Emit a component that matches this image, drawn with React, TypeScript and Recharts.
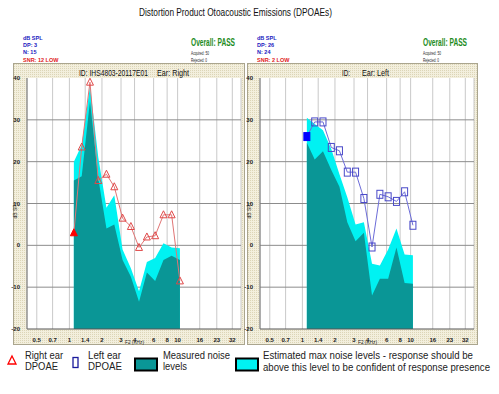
import React from 'react';
import { ComposedChart, Area, Line, XAxis, YAxis, CartesianGrid } from 'recharts';

const FREQ_KHZ = [1.1, 1.3, 1.55, 1.85, 2.2, 2.6, 3.1, 3.7, 4.4, 5.2, 6.2, 7.4, 8.8, 10.5];
const X_TICKS = [0.5, 0.7, 1, 1.4, 2, 3, 4, 6, 8, 10, 16, 23, 32];
const Y_TICKS = [-20, -10, 0, 10, 20, 30, 40];
const GRID_Y = [-10, 0, 10, 20, 30];

const RIGHT_EAR_DPOAE = [3, 23.5, 39, 15.5, 17, 14, 6.5, 4.5, -0.5, 2, 2.3, 7.3, 7.3, -8.5];
const RIGHT_EAR_NOISE = [15.5, 16.5, 34.5, 16, 4, 5, -3.5, -7.5, -13.5, -6.5, -8.5, -3.5, -2.5, -3.5];
const RIGHT_EAR_MAX_NOISE = [20, 24, 38, 21, 9, 12, -1, -5.5, -11, -4, -3, 0.5, -0.5, -0.7];

const LEFT_EAR_DPOAE = [26, 29.5, 29.5, 23.4, 22.6, 17.5, 17.5, 11.2, -0.4, 12.2, 11.6, 10.5, 12.8, 4.8];
const LEFT_EAR_NOISE = [24.5, 20.5, 22.5, 18, 14, 5.5, 1, 3, -12, -8, -8, -0.5, -9, -9.2];
const LEFT_EAR_MAX_NOISE = [30.5, 29, 27.5, 23, 17, 11.5, 5, 5.5, -4.4, -4.8, -1, 4, -2.2, -2.4];

const FONT = 'Arial, "Liberation Sans", sans-serif';

function build(dp: number[], noise: number[], maxNoise: number[]) {
  return FREQ_KHZ.map((f, i) => ({ f, dp: dp[i], noise: noise[i], maxNoise: maxNoise[i] }));
}

const rightEarData = build(RIGHT_EAR_DPOAE, RIGHT_EAR_NOISE, RIGHT_EAR_MAX_NOISE);
const leftEarData = build(LEFT_EAR_DPOAE, LEFT_EAR_NOISE, LEFT_EAR_MAX_NOISE);

const triDot = (props: any) => {
  const { cx, cy, index } = props;
  const filled = index === 0;
  return (
    <path
      key={`tri-${index}`}
      d={`M${cx},${cy - 4} L${cx + 3.5},${cy + 3} L${cx - 3.5},${cy + 3} Z`}
      fill={filled ? '#ff0000' : 'none'}
      stroke={filled ? '#ff0000' : '#e04848'}
      strokeWidth={1}
    />
  );
};

const sqDot = (props: any) => {
  const { cx, cy, index } = props;
  const filled = index === 0;
  return (
    <rect
      key={`sq-${index}`}
      x={cx - 3}
      y={cy - 4}
      width={6}
      height={8}
      fill={filled ? '#0000ff' : 'none'}
      stroke={filled ? '#0000ff' : '#4848c8'}
      strokeWidth={1}
    />
  );
};

function Panel({ data, offsetX, kind }: { data: any[]; offsetX: number; kind: 'tri' | 'sq' }) {
  return (
    <div style={{ position: 'absolute', left: offsetX, top: 0 }}>
      <ComposedChart width={250} height={350} data={data} margin={{ top: 78, right: 9, bottom: 7, left: 13 }}>
        <CartesianGrid horizontal={false} stroke="#c9c9c9" fill="#ffffff" />
        <CartesianGrid vertical={false} horizontalValues={GRID_Y} stroke="#8c8c8c" />
        <XAxis
          dataKey="f"
          type="number"
          scale="log"
          domain={[0.406, 38.5]}
          ticks={X_TICKS}
          interval={0}
          allowDataOverflow
          height={14}
          tickLine={false}
          tickMargin={3}
          axisLine={{ stroke: '#555' }}
          tick={{ fontSize: 6, fontWeight: 700, fill: '#222', fontFamily: FONT }}
          tickFormatter={(v: number) => String(v)}
        />
        <YAxis
          type="number"
          domain={[-20, 40]}
          ticks={Y_TICKS}
          interval={0}
          allowDataOverflow
          width={14}
          tickLine={false}
          tickMargin={1}
          axisLine={{ stroke: '#777' }}
          tick={{ fontSize: 6, fontWeight: 700, fill: '#222', fontFamily: FONT }}
        />
        <Area
          dataKey="maxNoise"
          type="linear"
          baseValue={-20}
          fill="#00f2f2"
          fillOpacity={1}
          stroke="none"
          dot={false}
          activeDot={false}
          isAnimationActive={false}
        />
        <Area
          dataKey="noise"
          type="linear"
          baseValue={-20}
          fill="#0a9696"
          fillOpacity={1}
          stroke="none"
          dot={false}
          activeDot={false}
          isAnimationActive={false}
        />
        <Line
          dataKey="dp"
          type="linear"
          stroke={kind === 'tri' ? '#e07575' : '#6c6cd8'}
          strokeWidth={1}
          dot={kind === 'tri' ? triDot : sqDot}
          activeDot={false}
          isAnimationActive={false}
        />
      </ComposedChart>
    </div>
  );
}

function InfoBlock({ x, dp, n, snr, passX }: { x: number; dp: string; n: string; snr: string; passX: number }) {
  return (
    <g fontFamily={FONT}>
      <text x={x} y={40} fontSize={5.5} fontWeight={700} fill="#2020c0">dB SPL</text>
      <text x={x} y={47} fontSize={5.5} fontWeight={700} fill="#2020c0">{dp}</text>
      <text x={x} y={54} fontSize={5.5} fontWeight={700} fill="#2020c0">{n}</text>
      <text x={x} y={62} fontSize={5.5} fontWeight={700} fill="#e02020">{snr}</text>
      <text x={passX} y={46} fontSize={10} fontWeight={700} fill="#1e8c1e" textLength={44} lengthAdjust="spacingAndGlyphs">Overall: PASS</text>
      <text x={passX} y={55} fontSize={5} fill="#222" textLength={18} lengthAdjust="spacingAndGlyphs">Acquired: 50</text>
      <text x={passX} y={62} fontSize={5} fill="#222" textLength={16} lengthAdjust="spacingAndGlyphs">Rejected: 0</text>
    </g>
  );
}

function Background() {
  return (
    <svg width={499} height={394} style={{ position: 'absolute', left: 0, top: 0 }}>
      <defs>
        <pattern id="beige" width="2" height="2" patternUnits="userSpaceOnUse">
          <rect width="2" height="2" fill="#f3efdd" />
          <rect width="1" height="1" fill="#dcd5b7" />
        </pattern>
      </defs>
      <rect x={0} y={0} width={499} height={394} fill="#ffffff" />
      <text x={235.5} y={16} textAnchor="middle" fontSize={11} fontFamily={FONT} fill="#111" textLength={193} lengthAdjust="spacingAndGlyphs">
        Distortion Product Otoacoustic Emissions (DPOAEs)
      </text>
      <InfoBlock x={23} dp="DP: 3" n="N: 15" snr="SNR: 12 LOW" passX={191} />
      <InfoBlock x={257} dp="DP: 26" n="N: 24" snr="SNR: 2 LOW" passX={423} />
      <rect x={13.5} y={63.5} width={231} height={281} fill="url(#beige)" stroke="#aaa58e" />
      <rect x={247.5} y={63.5} width={230} height={281} fill="url(#beige)" stroke="#aaa58e" />
      <g fontFamily={FONT} fontSize={9.5} fill="#111">
        <text x={79} y={76} textLength={69} lengthAdjust="spacingAndGlyphs">ID: IHS4803-20117E01</text>
        <text x={157} y={76} textLength={32} lengthAdjust="spacingAndGlyphs">Ear: Right</text>
        <text x={342} y={76} textLength={8} lengthAdjust="spacingAndGlyphs">ID:</text>
        <text x={362} y={76} textLength={27} lengthAdjust="spacingAndGlyphs">Ear: Left</text>
      </g>
      <g fontFamily={FONT} fontSize={5} fill="#222">
        <text x={125} y={344} textLength={19} lengthAdjust="spacingAndGlyphs">F2 (KHz)</text>
        <text x={358} y={344} textLength={19} lengthAdjust="spacingAndGlyphs">F2 (KHz)</text>
        <text x={0} y={0} transform="translate(17,210) rotate(-90)" textAnchor="middle">dB SPL</text>
        <text x={0} y={0} transform="translate(251,210) rotate(-90)" textAnchor="middle">dB SPL</text>
      </g>
      {/* legend */}
      <g fontFamily={FONT} fontSize={10} fill="#222">
        <path d="M12,356 L16,364 L8,364 Z" fill="none" stroke="#ff0000" strokeWidth={1.3} />
        <text x={25} y={359} textLength={38} lengthAdjust="spacingAndGlyphs">Right ear</text>
        <text x={25} y={370} textLength={33} lengthAdjust="spacingAndGlyphs">DPOAE</text>
        <rect x={73} y={357.5} width={5} height={10} fill="none" stroke="#1a1a9c" strokeWidth={1.3} />
        <text x={88} y={359} textLength={33} lengthAdjust="spacingAndGlyphs">Left ear</text>
        <text x={88} y={370} textLength={34} lengthAdjust="spacingAndGlyphs">DPOAE</text>
        <rect x={135} y={358.5} width={22} height={12} fill="#0a9696" stroke="#000" strokeWidth={2} />
        <text x={163} y={359} textLength={67} lengthAdjust="spacingAndGlyphs">Measured noise</text>
        <text x={163} y={370} textLength={24} lengthAdjust="spacingAndGlyphs">levels</text>
        <rect x={236} y={358.5} width={22} height={12} fill="#00f2f2" stroke="#000" strokeWidth={2} />
        <text x={263} y={359} textLength={210} lengthAdjust="spacingAndGlyphs">Estimated max noise levels - response should be</text>
        <text x={263} y={371} textLength={227} lengthAdjust="spacingAndGlyphs">above this level to be confident of response presence</text>
      </g>
    </svg>
  );
}

export default function App() {
  return (
    <div style={{ position: 'absolute', left: 0, top: 0, width: 499, height: 394, background: '#fff', overflow: 'hidden' }}>
      <Background />
      <Panel data={rightEarData} offsetX={0} kind="tri" />
      <Panel data={leftEarData} offsetX={233} kind="sq" />
    </div>
  );
}
